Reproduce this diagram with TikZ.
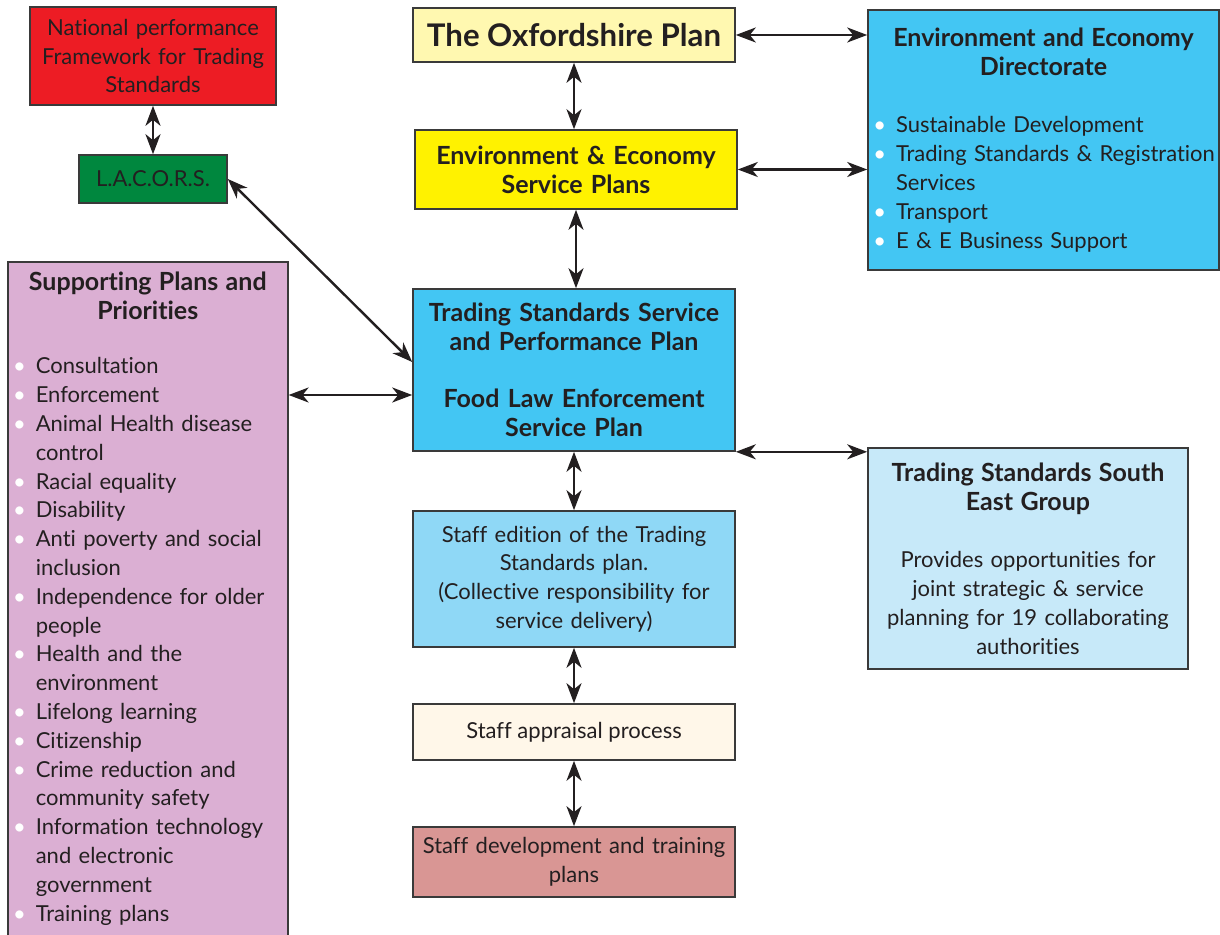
\documentclass[tikz,border=0pt]{standalone}
\usepackage{fontspec}
\setmainfont{Lato}[Ligatures={NoCommon,NoRare,NoContextual}]
\usepackage{xcolor}
\usepackage{tikz}
\usetikzlibrary{arrows.meta,positioning}
\definecolor{ink}      {HTML}{231F20}
\definecolor{rim}      {HTML}{3A3A3A}
\definecolor{natRed}   {HTML}{ED1C24}
\definecolor{lacGreen} {HTML}{00873E}
\definecolor{oxfCream} {HTML}{FFF8B0}
\definecolor{eeYellow} {HTML}{FFF200}
\definecolor{dirCyan}  {HTML}{43C6F3}
\definecolor{seBlue}   {HTML}{C7E9F9}
\definecolor{edBlue}   {HTML}{8FD8F6}
\definecolor{appCream} {HTML}{FFF7E9}
\definecolor{devRose}  {HTML}{D99694}
\definecolor{supLilac} {HTML}{DBAFD3}
\newcommand\bodyfont{\fontsize{11}{14.4}\selectfont}
\newcommand\headfont{\fontsize{12.5}{14.4}\selectfont\bfseries}
\newenvironment{dotlist}{\begin{list}{\llap{\textcolor{white}{\textbullet}}}{%
  \setlength{\leftmargin}{9pt}\setlength{\labelwidth}{0pt}\setlength{\labelsep}{5pt}%
  \setlength{\itemsep}{0pt}\setlength{\parsep}{0pt}\setlength{\topsep}{0pt}%
  \setlength{\partopsep}{0pt}}}{\end{list}}

\begin{document}
\begin{tikzpicture}[x=0.5pt, y=-0.5pt,
   box/.style={draw=rim, line width=0.8pt, inner sep=5pt, align=center, text=ink,
               font=\bodyfont},
   heavy/.style={box, font=\headfont},
   link/.style={draw=ink, line width=1.2pt,
                {Stealth[length=10pt,width=7.5pt,inset=3pt]}-{Stealth[length=10pt,width=7.5pt,inset=3pt]}}
]
\useasboundingbox (0,0) rectangle (1220,935);

% left column
\node[box, fill=natRed, minimum width=123pt, minimum height=49pt, text width=113pt] (natl) at (153,56)
  {National performance\\Framework for Trading\\Standards};
\node[box, fill=lacGreen, minimum width=74pt, minimum height=24pt] (lacors) at (153,179) {L.A.C.O.R.S.};
\node[box, fill=supLilac, anchor=north west, text width=130pt, align=left] (supp) at (7,261) {%
  {\centering\headfont Supporting Plans and\\Priorities\par}\vspace{13pt}
  \begin{dotlist}
    \item Consultation
    \item Enforcement
    \item Animal Health disease\\control
    \item Racial equality
    \item Disability
    \item Anti poverty and social\\inclusion
    \item Independence for older\\people
    \item Health and the\\environment
    \item Lifelong learning
    \item Citizenship
    \item Crime reduction and\\community safety
    \item Information technology\\and electronic\\government
    \item Training plans
  \end{dotlist}\vspace{20pt}};

% centre column
\node[heavy, fill=oxfCream, minimum width=161pt, minimum height=27pt,
      font=\fontsize{15.6}{17}\selectfont\bfseries] (oxf) at (574,35) {The Oxfordshire Plan};
\node[heavy, fill=eeYellow, minimum width=161pt, minimum height=39.5pt, text width=151pt] (eesp) at (576,169.5)
  {Environment \& Economy\\Service Plans};
\node[heavy, fill=dirCyan, minimum width=161pt, minimum height=81pt, text width=151pt] (tsp) at (574,370)
  {Trading Standards Service\\and Performance Plan\\[14.4pt]Food Law Enforcement\\Service Plan};
\node[box, fill=edBlue, minimum width=161pt, minimum height=68pt, text width=151pt] (sted) at (574,579)
  {Staff edition of the Trading\\Standards plan.\\(Collective responsibility for\\service delivery)};
\node[box, fill=appCream, minimum width=161pt, minimum height=28pt] (sapp) at (574,732) {Staff appraisal process};
\node[box, fill=devRose, minimum width=161pt, minimum height=35pt, text width=159pt, inner xsep=1pt] (sdev) at (574,862)
  {Staff development and training\\plans};

% right column
\node[box, fill=dirCyan, minimum width=175.5pt, minimum height=130pt, text width=165.5pt, align=left] (eed) at (1043.5,140) {%
  {\centering\headfont Environment and Economy\\Directorate\par}\vspace{14.4pt}
  \begin{dotlist}
    \item Sustainable Development
    \item \makebox[\linewidth][l]{Trading Standards \& Registration}\\Services
    \item Transport
    \item E \& E Business Support
  \end{dotlist}};
\node[box, fill=seBlue, minimum width=160pt, minimum height=110.5pt, text width=150pt] (tsse) at (1028,558.5)
  {{\headfont Trading Standards South\\East Group}\\[14.4pt]Provides opportunities for\\joint strategic \& service\\planning for 19 collaborating\\authorities};

% connectors
\path ([yshift=-12.5pt]tsp.west) coordinate (tspin);
\draw[link] (natl) -- (lacors);
\draw[link] (oxf.south) -- (oxf.south |- eesp.north);
\draw[link] (eesp.south) -- (eesp.south |- tsp.north);
\draw[link] (tsp) -- (sted);
\draw[link] (sted) -- (sapp);
\draw[link] (sapp) -- (sdev);
\draw[link] (oxf.east) -- (eed.west |- oxf.east);
\draw[link] (eesp.east) -- (eed.west |- eesp.east);
\draw[link] (tsp.south east) -- (tsse.west |- tsp.south east);
\draw[link] (lacors.east) -- ([yshift=4pt]tsp.west);
\draw[link] (supp.east |- tspin) -- (tspin);
\end{tikzpicture}
\end{document}
